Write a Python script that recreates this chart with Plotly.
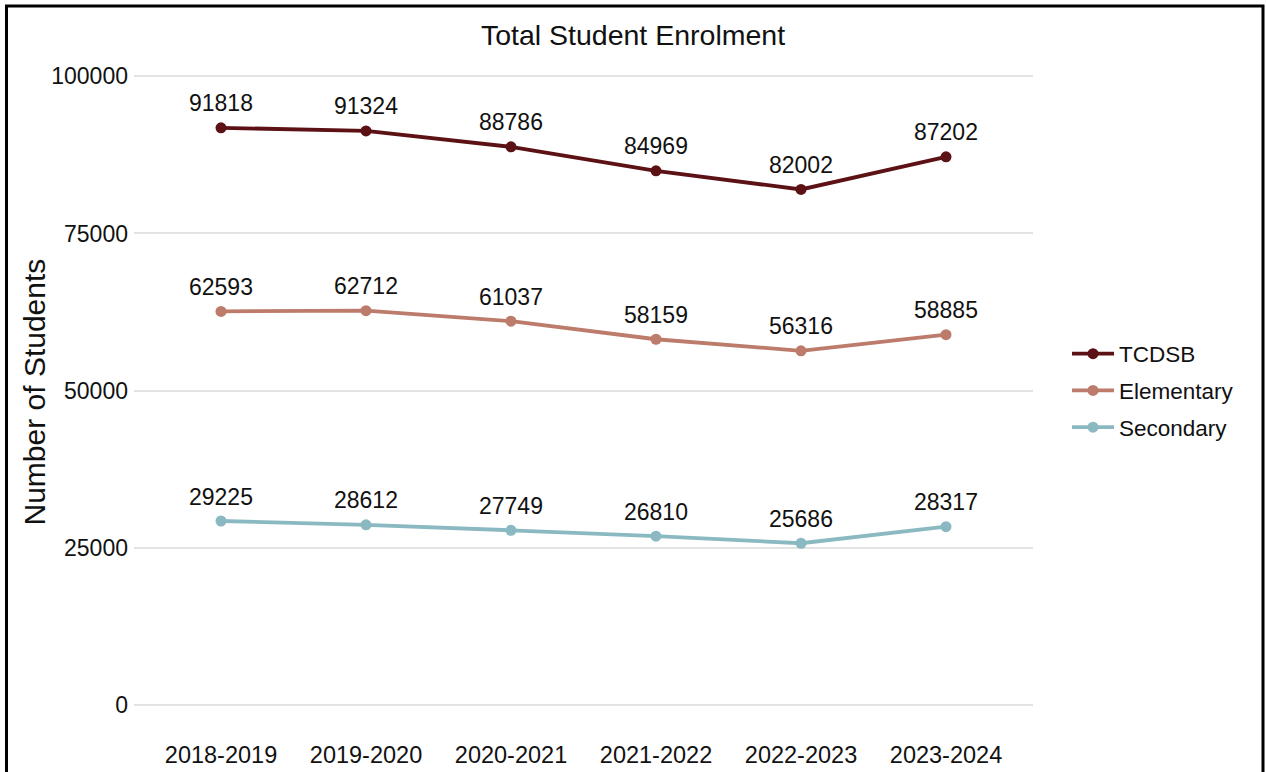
import plotly.graph_objects as go

years = ["2018-2019", "2019-2020", "2020-2021", "2021-2022", "2022-2023", "2023-2024"]
tcdsb = [91818, 91324, 88786, 84969, 82002, 87202]
elementary = [62593, 62712, 61037, 58159, 56316, 58885]
secondary = [29225, 28612, 27749, 26810, 25686, 28317]
series_names = ["TCDSB", "Elementary", "Secondary"]
series_colors = ["#5C1115", "#BD7B6B", "#8BB9C1"]
y_ticks = [0, 25000, 50000, 75000, 100000]

FONT = "Liberation Sans, Arial, sans-serif"
INK = "#111111"

fig = go.Figure()
annotations = []
for name, vals, col in zip(series_names, [tcdsb, elementary, secondary], series_colors):
    fig.add_trace(go.Scatter(
        x=years, y=vals, mode="lines+markers", name=name, legendgroup=name,
        line=dict(color=col, width=3.8),
        marker=dict(color=col, size=11),
    ))
    for xv, yv in zip(years, vals):
        annotations.append(dict(
            x=xv, y=yv, text=str(yv), showarrow=False, yshift=24.5,
            font=dict(family=FONT, size=23, color=INK),
        ))

L, R, T, B = 134, 1033, 44.5, 736.5
W, H = 1266, 772
pw, ph = R - L, B - T

annotations.append(dict(
    text="Number of Students", xref="paper", yref="paper",
    x=(34 - L) / pw, y=(B - 392.5) / ph, xanchor="center", yanchor="middle",
    textangle=-90, showarrow=False, font=dict(family=FONT, size=30, color=INK),
))

fig.update_layout(
    width=W, height=H,
    paper_bgcolor="white", plot_bgcolor="white",
    margin=dict(l=L, r=W - R, t=T, b=H - B, autoexpand=False),
    title=dict(text="Total Student Enrolment", x=0.5, xref="container", xanchor="center",
               y=1 - 35 / H, yref="container", yanchor="middle",
               font=dict(family=FONT, size=28.5, color=INK)),
    font=dict(family=FONT, color=INK),
    xaxis=dict(range=[-0.6, 5.6], showgrid=False, zeroline=False, showline=False, automargin=False,
               ticks="", tickfont=dict(size=23.5, color=INK), ticklabelstandoff=2),
    yaxis=dict(range=[-5000, 105000], tickvals=y_ticks, ticktext=[str(v) for v in y_ticks],
               showgrid=True, gridcolor="#E3E3E3", gridwidth=2, zeroline=False, showline=False,
               automargin=False, ticks="", tickfont=dict(size=23, color=INK), ticklabelstandoff=5),
    legend=dict(x=(1067 - L) / pw, xanchor="left", y=(B - 390.5) / ph, yanchor="middle",
                font=dict(size=22.5, color=INK), tracegroupgap=4.5, itemwidth=42),
    annotations=annotations,
    shapes=[dict(type="rect", xref="paper", yref="paper",
                 x0=(6.5 - L) / pw, x1=(1263 - L) / pw,
                 y0=-0.2, y1=(B - 5.5) / ph,
                 line=dict(color="black", width=3), fillcolor="rgba(0,0,0,0)", layer="above")],
)

fig.write_html("out.html", config={"displayModeBar": False},
               post_script="document.body.style.margin='0px';")
